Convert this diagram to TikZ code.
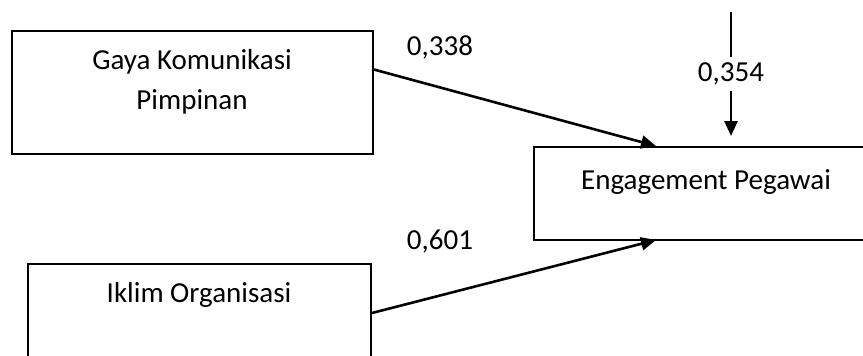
\documentclass[tikz,border=0pt]{standalone}
\usepackage{fontspec}
\setmainfont{Carlito}
\usetikzlibrary{arrows.meta}
\begin{document}
\begin{tikzpicture}[x=1pt,y=-1pt,
  boxst/.style={draw, line width=2pt, rectangle, inner sep=0pt},
  txt/.style={inner sep=0pt, align=center, font=\fontsize{29}{40}\selectfont},
  conn/.style={line width=2.6pt, -{Triangle[length=15pt,width=13pt]}},
  lbl/.style={inner sep=0pt, font=\fontsize{29}{40}\selectfont}]
\useasboundingbox (0,0) rectangle (863,356);
\node[boxst, minimum width=361pt, minimum height=123pt] (g) at (192.5,92.5) {};
\node[txt] (gt) at (192,82) {Gaya Komunikasi\\Pimpinan};
\node[boxst, minimum width=360pt, minimum height=93pt] (e) at (714,193.5) {};
\node[txt] (et) at (706,182) {Engagement Pegawai};
\node[boxst, minimum width=343pt, minimum height=160pt] (i) at (199.5,344) {};
\node[txt] (it) at (199,295) {Iklim Organisasi};
\coordinate (g1) at (372,69);
\coordinate (e1) at (656,146);
\coordinate (i1) at (372,313);
\coordinate (e2) at (656,240);
\coordinate (t0) at (731,12);
\coordinate (t1) at (731,136);
\draw[conn] (g1) -- (e1);
\draw[conn] (i1) -- (e2);
\draw[conn] (t0) -- node[lbl, fill=white, inner ysep=6pt] (l3) {0,354} (t1);
\node[lbl] (l1) at (440,47) {0,338};
\node[lbl] (l2) at (440,242) {0,601};
\end{tikzpicture}
\end{document}
